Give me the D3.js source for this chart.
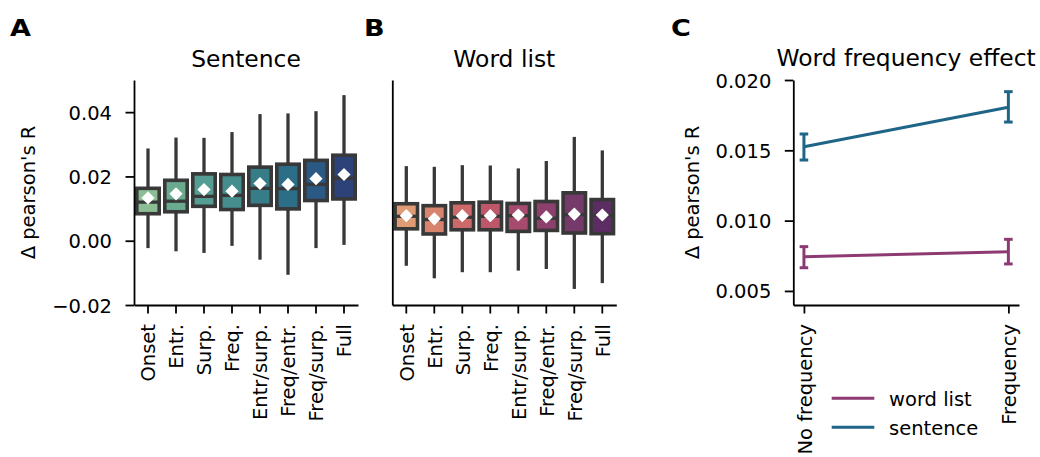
<!DOCTYPE html>
<html>
<head>
<meta charset="utf-8">
<script src="https://cdn.jsdelivr.net/npm/d3@7"></script>
<style>
  html, body { margin: 0; padding: 0; background: #fff; }
  svg { display: block; }
  text { font-family: "DejaVu Sans", sans-serif; fill: #000; }
</style>
</head>
<body>
<svg id="fig" width="1040" height="457"></svg>
<script>
// ---- data -------------------------------------------------------------
const categories = ["Onset", "Entr.", "Surp.", "Freq.", "Entr/surp.", "Freq/entr.", "Freq/surp.", "Full"];

// Sentence condition: box statistics per model
const sentenceLow    = [-0.0023, -0.0033, -0.0038, -0.0016, -0.0059, -0.0106, -0.0023, -0.0013];
const sentenceQ1     = [0.0084, 0.0090, 0.0107, 0.0097, 0.0110, 0.0099, 0.0125, 0.0130];
const sentenceMedian = [0.0120, 0.0123, 0.0138, 0.0141, 0.0163, 0.0162, 0.0175, 0.0194];
const sentenceQ3     = [0.0163, 0.0188, 0.0208, 0.0206, 0.0229, 0.0238, 0.0250, 0.0266];
const sentenceHigh   = [0.0287, 0.0321, 0.0320, 0.0338, 0.0394, 0.0396, 0.0403, 0.0453];
const sentenceMean   = [0.0133, 0.0146, 0.0159, 0.0154, 0.0178, 0.0175, 0.0193, 0.0206];

// Word list condition: box statistics per model
const wordLow    = [-0.0078, -0.0117, -0.0098, -0.0098, -0.0093, -0.0088, -0.0150, -0.0132];
const wordQ1     = [0.0037, 0.0021, 0.0034, 0.0034, 0.0029, 0.0032, 0.0024, 0.0022];
const wordMedian = [0.0076, 0.0066, 0.0073, 0.0076, 0.0078, 0.0070, 0.0081, 0.0079];
const wordQ3     = [0.0115, 0.0109, 0.0118, 0.0120, 0.0116, 0.0122, 0.0149, 0.0128];
const wordHigh   = [0.0232, 0.0230, 0.0235, 0.0234, 0.0225, 0.0248, 0.0323, 0.0281];
const wordMean   = [0.0078, 0.0068, 0.0078, 0.0078, 0.0080, 0.0074, 0.0083, 0.0080];

const boxTicks = [-0.02, 0.00, 0.02, 0.04];

// Word frequency effect
const conditions = ["No frequency", "Frequency"];
const freqWordMean = [0.00743, 0.00779];
const freqWordLo   = [0.00665, 0.00692];
const freqWordHi   = [0.00815, 0.00867];
const freqSentMean = [0.01526, 0.01806];
const freqSentLo   = [0.01431, 0.01701];
const freqSentHi   = [0.01616, 0.01917];
const freqTicks = [0.005, 0.010, 0.015, 0.020];

// palettes
const crestColors = ["#8cbe96", "#6aaa8e", "#559d93", "#468d8e", "#377d88", "#2c6d87", "#2a5a84", "#2d4278"];
const flareColors = ["#e09a74", "#d8836e", "#cd6a69", "#be576a", "#a64b6e", "#8d3f6e", "#753a6a", "#5c2d62"];
const wordColor = "#8e3a72";
const sentColor = "#1f6587";

// ---- layout -----------------------------------------------------------
const svg = d3.select("#fig");
const yTop = 80, yBot = 305;
const edge = "#383838";
const fs = 19.5;

const yBox = d3.scaleLinear().domain([-0.02, 0.05]).range([yBot, yTop]);

function styleAxis(g) {
  g.selectAll(".domain").attr("stroke", "#000").attr("stroke-width", 1.8);
  g.selectAll(".tick line").attr("stroke", "#000").attr("stroke-width", 1.8);
  g.selectAll("text").style("font-size", fs + "px").style("font-family", "DejaVu Sans, sans-serif").attr("fill", "#000");
}

function rotatedXLabels(g) {
  g.selectAll(".tick text")
    .attr("text-anchor", "end")
    .attr("transform", "translate(0,19) rotate(-90)")
    .attr("x", 0).attr("y", 0).attr("dy", "0.37em");
}

function boxPanel(x0, x1, low, q1, med, q3, high, mean, colors, showY, title) {
  const x = d3.scaleBand().domain(categories).range([x0, x1]).paddingInner(0).paddingOuter(0);
  const g = svg.append("g");
  const bw = x.bandwidth() * 0.8;

  const items = categories.map((c, i) => ({ c, i }));
  const grp = g.selectAll(".box").data(items).join("g").attr("class", "box");
  const cx = d => x(d.c) + x.bandwidth() / 2;

  // whiskers
  grp.append("line")
    .attr("x1", cx).attr("x2", cx)
    .attr("y1", d => yBox(low[d.i])).attr("y2", d => yBox(q1[d.i]))
    .attr("stroke", edge).attr("stroke-width", 3.3);
  grp.append("line")
    .attr("x1", cx).attr("x2", cx)
    .attr("y1", d => yBox(q3[d.i])).attr("y2", d => yBox(high[d.i]))
    .attr("stroke", edge).attr("stroke-width", 3.3);
  // boxes
  grp.append("rect")
    .attr("x", d => cx(d) - bw / 2).attr("width", bw)
    .attr("y", d => yBox(q3[d.i])).attr("height", d => yBox(q1[d.i]) - yBox(q3[d.i]))
    .attr("fill", d => colors[d.i]).attr("stroke", edge).attr("stroke-width", 3.6);
  // medians
  grp.append("line")
    .attr("x1", d => cx(d) - bw / 2).attr("x2", d => cx(d) + bw / 2)
    .attr("y1", d => yBox(med[d.i])).attr("y2", d => yBox(med[d.i]))
    .attr("stroke", edge).attr("stroke-width", 3.3);
  // means
  const r = 6.6;
  grp.append("path")
    .attr("transform", d => `translate(${cx(d)},${yBox(mean[d.i])})`)
    .attr("d", `M0,${-r}L${r},0L0,${r}L${-r},0Z`)
    .attr("fill", "#fff");

  // axes
  const ax = g.append("g").attr("transform", `translate(0,${yBot})`)
    .call(d3.axisBottom(x).tickSize(8.5).tickPadding(0).tickSizeOuter(0));
  styleAxis(ax);
  rotatedXLabels(ax);

  const ay = g.append("g").attr("transform", `translate(${x0},0)`);
  if (showY) {
    ay.call(d3.axisLeft(yBox).tickValues(boxTicks).tickFormat(d => d3.format(".2f")(d).replace("-", "\u2212"))
      .tickSize(8.5).tickPadding(13.5).tickSizeOuter(0));
  } else {
    ay.call(d3.axisLeft(yBox).tickValues([]).tickSizeOuter(0));
  }
  styleAxis(ay);
  ay.selectAll(".tick text").attr("dy", "0.36em");

  svg.append("text").attr("x", (x0 + x1) / 2).attr("y", 66.5)
    .attr("text-anchor", "middle").style("font-size", "23.4px").text(title);
}

boxPanel(134, 358, sentenceLow, sentenceQ1, sentenceMedian, sentenceQ3, sentenceHigh, sentenceMean, crestColors, true, "Sentence");
boxPanel(392.3, 616.3, wordLow, wordQ1, wordMedian, wordQ3, wordHigh, wordMean, flareColors, false, "Word list");

// ---- word frequency effect panel ------------------------------------
const cx0 = 793.3, cx1 = 1019;
const xC = d3.scaleLinear().domain([-0.052, 1.052]).range([cx0, cx1]);
const yC = d3.scaleLinear().domain([0.004, 0.020]).range([yBot, yTop]);
const gC = svg.append("g");

function series(mean, lo, hi, color) {
  const pts = conditions.map((c, i) => ({ i, m: mean[i], lo: lo[i], hi: hi[i] }));
  gC.append("path").datum(pts)
    .attr("d", d3.line().x(d => xC(d.i)).y(d => yC(d.m)))
    .attr("fill", "none").attr("stroke", color).attr("stroke-width", 3);
  const eb = gC.selectAll(null).data(pts).join("g");
  eb.append("line").attr("x1", d => xC(d.i)).attr("x2", d => xC(d.i))
    .attr("y1", d => yC(d.lo)).attr("y2", d => yC(d.hi))
    .attr("stroke", color).attr("stroke-width", 3);
  [ "lo", "hi" ].forEach(k => {
    eb.append("line").attr("x1", d => xC(d.i) - 4.3).attr("x2", d => xC(d.i) + 4.3)
      .attr("y1", d => yC(d[k])).attr("y2", d => yC(d[k]))
      .attr("stroke", color).attr("stroke-width", 3);
  });
}
series(freqWordMean, freqWordLo, freqWordHi, wordColor);
series(freqSentMean, freqSentLo, freqSentHi, sentColor);

const axC = gC.append("g").attr("transform", `translate(0,${yBot})`)
  .call(d3.axisBottom(xC).tickValues([0, 1]).tickFormat(i => conditions[i]).tickSize(8.5).tickPadding(0).tickSizeOuter(0));
styleAxis(axC);
rotatedXLabels(axC);

const ayC = gC.append("g").attr("transform", `translate(${cx0},0)`)
  .call(d3.axisLeft(yC).tickValues(freqTicks).tickFormat(d3.format(".3f")).tickSize(8.5).tickPadding(13.5).tickSizeOuter(0));
styleAxis(ayC);
ayC.selectAll(".tick text").attr("dy", "0.36em");

svg.append("text").attr("x", (cx0 + cx1) / 2).attr("y", 66)
  .attr("text-anchor", "middle").style("font-size", "23.4px").text("Word frequency effect");

// legend
const legend = [{ label: "word list", color: wordColor, y: 398.3 }, { label: "sentence", color: sentColor, y: 427.3 }];
const lg = svg.append("g").selectAll("g").data(legend).join("g");
lg.append("line").attr("x1", 831.7).attr("x2", 874.3).attr("y1", d => d.y).attr("y2", d => d.y)
  .attr("stroke", d => d.color).attr("stroke-width", 3);
lg.append("text").attr("x", 889).attr("y", d => d.y + 7.2).style("font-size", fs + "px").text(d => d.label);

// ---- y labels and panel letters ---------------------------------------
function yLabel(x) {
  svg.append("text").attr("transform", `translate(${x},${(yTop + yBot) / 2}) rotate(-90)`)
    .attr("text-anchor", "middle").style("font-size", fs + "px").text("\u0394 pearson's R");
}
yLabel(34.5);
yLabel(699.3);

[["A", 10], ["B", 364], ["C", 671]].forEach(([t, x]) => {
  svg.append("text").attr("transform", `translate(${x},35.7) scale(1.15,1)`)
    .style("font-size", "23.5px").style("font-weight", "bold")
    .style("font-family", "DejaVu Sans, sans-serif").text(t);
});
</script>
</body>
</html>
